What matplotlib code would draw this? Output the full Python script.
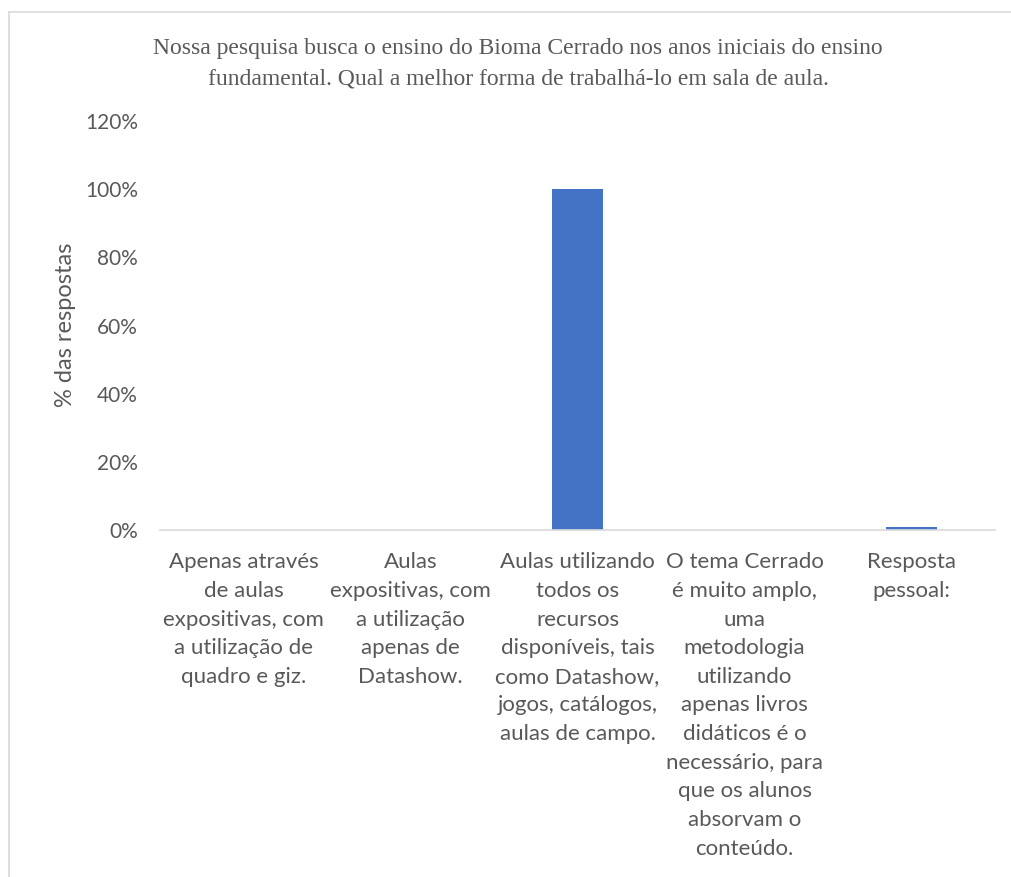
import numpy as np
import matplotlib
matplotlib.use("Agg")
import matplotlib.pyplot as plt
from matplotlib.lines import Line2D
from matplotlib.ticker import PercentFormatter

categories = [
    "Apenas através\nde aulas\nexpositivas, com\na utilização de\nquadro e giz.",
    "Aulas\nexpositivas, com\na utilização\napenas de\nDatashow.",
    "Aulas utilizando\ntodos os\nrecursos\ndisponíveis, tais\ncomo Datashow,\njogos, catálogos,\naulas de campo.",
    "O tema Cerrado\né muito amplo,\numa\nmetodologia\nutilizando\napenas livros\ndidáticos é o\nnecessário, para\nque os alunos\nabsorvam o\nconteúdo.",
    "Resposta\npessoal:",
]
values = [0.0, 0.0, 1.0, 0.0, 0.01]
yticks = [0, 0.2, 0.4, 0.6, 0.8, 1.0, 1.2]

W, H = 1012, 877
fig = plt.figure(figsize=(W / 100, H / 100), dpi=100)
GRAY = "#595959"
SANS = ["Lato", "DejaVu Sans"]

# chart frame (Excel style): only top and left edges are in the picture
fx, fy = 8.5 / W, 1 - 12 / H
fig.add_artist(Line2D([fx, 1.0], [fy, fy], transform=fig.transFigure, color="#D9D9D9", lw=1.2))
fig.add_artist(Line2D([fx, fx], [0.0, fy], transform=fig.transFigure, color="#D9D9D9", lw=1.2))

ax = fig.add_axes([160 / W, (H - 530) / H, 835 / W, 409 / H])
x = np.arange(len(categories))
ax.bar(x, values, width=0.31, color="#4472C4")
ax.set_xlim(-0.5, len(categories) - 0.5)
ax.set_ylim(0, 1.2)
ax.set_yticks(yticks)
ax.yaxis.set_major_formatter(PercentFormatter(1.0, decimals=0))
ax.set_xticks(x)
ax.set_xticklabels(categories, fontsize=16, color=GRAY, family=SANS,
                   linespacing=1.54, va="top")
for lab in ax.get_yticklabels():
    lab.set_fontsize(15); lab.set_color(GRAY); lab.set_family(SANS)
ax.tick_params(axis="x", length=0, pad=16)
ax.tick_params(axis="y", length=0, pad=16)
for s in ["top", "right", "left"]:
    ax.spines[s].set_visible(False)
ax.spines["bottom"].set_color("#D9D9D9")
ax.spines["bottom"].set_linewidth(1.2)

fig.text(65 / W, 1 - 325 / H, "% das respostas", rotation=90, ha="center",
         va="center", fontsize=17, color=GRAY, family=SANS)
fig.text(518 / W, 1 - 64 / H,
         "Nossa pesquisa busca o ensino do Bioma Cerrado nos anos iniciais do ensino\n"
         "fundamental. Qual a melhor forma de trabalhá-lo em sala de aula.",
         ha="center", va="center", fontsize=17, color=GRAY,
         family=["Liberation Serif", "DejaVu Serif"], linespacing=1.58)

fig.savefig("out.png", dpi=100)
